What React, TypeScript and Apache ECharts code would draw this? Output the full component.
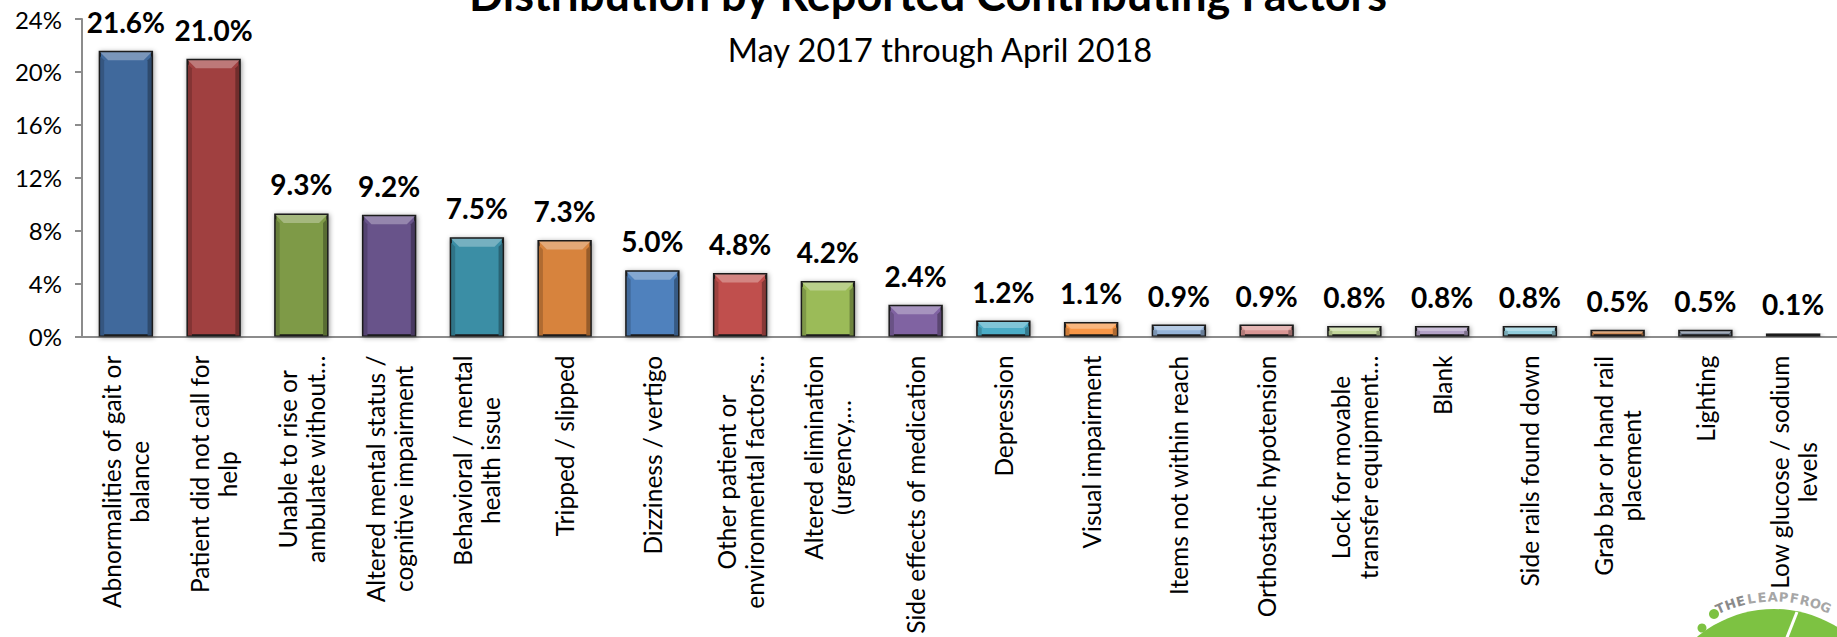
import React, { useEffect, useRef } from 'react';
import * as echarts from 'echarts';

const titleText = 'Distribution by Reported Contributing Factors';
const subtitleText = 'May 2017 through April 2018';

const categories = [
  'Abnormalities of gait or\nbalance',
  'Patient did not call for\nhelp',
  'Unable to rise or\nambulate without…',
  'Altered mental status /\ncognitive impairment',
  'Behavioral / mental\nhealth issue',
  'Tripped / slipped',
  'Dizziness / vertigo',
  'Other patient or\nenvironmental factors…',
  'Altered elimination\n(urgency,…',
  'Side effects of medication',
  'Depression',
  'Visual impairment',
  'Items not within reach',
  'Orthostatic hypotension',
  'Lock for movable\ntransfer equipment…',
  'Blank',
  'Side rails found down',
  'Grab bar or hand rail\nplacement',
  'Lighting',
  'Low glucose / sodium\nlevels',
];

const values = [21.6, 21.0, 9.3, 9.2, 7.5, 7.3, 5.0, 4.8, 4.2, 2.4, 1.2, 1.1, 0.9, 0.9, 0.8, 0.8, 0.8, 0.5, 0.5, 0.1];

const barColors = [
  '#41699C', '#A0403F', '#7E9A47', '#67528A', '#3A8EA5', '#D7833C',
  '#4F81BD', '#C0504D', '#9BBB59', '#8064A2', '#4BACC6', '#F79646',
  '#95B3D7', '#D99694', '#C3D69B', '#B3A2C7', '#92CDDC', '#C98148',
  '#7D8A9C', '#1A1A1A',
];

const yMin = 0;
const yMax = 24;
const yInterval = 4;

const logoText = 'THELEAPFROG';

const FONT = 'Lato, "Open Sans", sans-serif';

function mix(hex: string, target: string, t: number): string {
  const p = (h: string) => [1, 3, 5].map((k) => parseInt(h.slice(k, k + 2), 16));
  const a = p(hex);
  const b = p(target);
  const c = a.map((v, i) => Math.round(v + (b[i] - v) * t));
  return '#' + c.map((v) => v.toString(16).padStart(2, '0')).join('');
}

export default function App() {
  const ref = useRef<HTMLDivElement>(null);

  useEffect(() => {
    if (!ref.current) return;
    const chart = echarts.init(ref.current, undefined, { renderer: 'svg' });

    const cx = 1774;
    const cy = 729;
    const lr = 132;
    const a0 = -114;
    const a1 = -67;
    const letters = logoText.split('').map((ch, i) => {
      const ang = a0 + ((a1 - a0) * i) / (logoText.length - 1);
      const rad = (ang * Math.PI) / 180;
      return {
        type: 'text',
        x: cx + lr * Math.cos(rad),
        y: cy + lr * Math.sin(rad),
        rotation: -((ang + 90) * Math.PI) / 180,
        style: {
          text: ch,
          align: 'center',
          verticalAlign: 'middle',
          font: 'bold 13px "DejaVu Sans", sans-serif',
          fill: i < 3 ? '#8A8A8A' : '#A6A6A6',
        },
      };
    });

    const option: any = {
      animation: false,
      backgroundColor: '#ffffff',
      grid: { left: 82, right: -13, top: 19, bottom: 296, containLabel: false },
      xAxis: {
        type: 'category',
        data: categories,
        axisLine: { show: true, lineStyle: { color: '#8C8C8C', width: 2 } },
        axisTick: { show: false },
        axisLabel: {
          interval: 0,
          rotate: 90,
          margin: 19,
          color: '#000',
          fontFamily: FONT,
          fontSize: 24.5,
          lineHeight: 28,
          formatter: (v: string) =>
            v
              .split('\n')
              .map((l) => `{a|${l}}`)
              .join('\n'),
          rich: {
            a: { align: 'center', fontFamily: FONT, fontSize: 24.5, lineHeight: 28, color: '#000' },
          },
        },
      },
      yAxis: {
        type: 'value',
        min: yMin,
        max: yMax,
        interval: yInterval,
        splitLine: { show: false },
        axisLine: { show: true, lineStyle: { color: '#8C8C8C', width: 2 } },
        axisTick: { show: true, length: 7, lineStyle: { color: '#8C8C8C', width: 2 } },
        axisLabel: {
          margin: 20,
          color: '#000',
          fontFamily: FONT,
          fontSize: 24,
          formatter: '{value}%',
        },
      },
      series: [
        {
          type: 'bar',
          data: values.map((v, i) => ({ value: v, itemStyle: { color: barColors[i] } })),
          barWidth: '62%',
          barMinHeight: 3,
          itemStyle: {
            borderColor: '#1a1a1a',
            borderWidth: 2.2,
            shadowBlur: 5,
            shadowColor: 'rgba(0,0,0,0.4)',
            shadowOffsetX: 1,
            shadowOffsetY: 1,
          },
          label: {
            show: true,
            position: 'top',
            distance: 15,
            color: '#000',
            fontFamily: FONT,
            fontWeight: 'bold',
            fontSize: 28,
            formatter: (p: any) => Number(p.value).toFixed(1) + '%',
          },
          z: 4,
        },
        {
          type: 'custom',
          silent: true,
          z: 5,
          data: values.map((v, i) => [i, v]),
          renderItem: (params: any, api: any) => {
            const i = api.value(0);
            const v = api.value(1);
            const p = api.coord([i, v]);
            const b = api.coord([i, 0]);
            const w = api.size([1, 0])[0] * 0.62;
            const x0 = p[0] - w / 2 + 1.5;
            const x1 = p[0] + w / 2 - 1.5;
            const y0 = p[1] + 1.5;
            const y1 = b[1] - 1;
            const h = y1 - y0;
            if (h <= 2) return null;
            const d = Math.min(8, h * 0.45);
            const s = Math.min(4, d);
            const c = barColors[params.dataIndex];
            return {
              type: 'group',
              children: [
                {
                  type: 'polygon',
                  shape: { points: [[x0, y0 + s], [x0 + s, y0 + d], [x0 + s, y1], [x0, y1]] },
                  style: { fill: mix(c, '#000000', 0.18) },
                },
                {
                  type: 'polygon',
                  shape: { points: [[x1, y0 + s], [x1 - s, y0 + d], [x1 - s, y1], [x1, y1]] },
                  style: { fill: mix(c, '#000000', 0.3) },
                },
                {
                  type: 'polygon',
                  shape: { points: [[x0, y0], [x1, y0], [x1 - d, y0 + d], [x0 + d, y0 + d]] },
                  style: { fill: mix(c, '#ffffff', 0.3) },
                },
              ],
            };
          },
        },
      ],
      graphic: [
        {
          type: 'text',
          x: 928,
          y: -6,
          style: {
            text: titleText,
            align: 'center',
            verticalAlign: 'middle',
            font: `bold 45px ${FONT}`,
            fill: '#000',
          },
        },
        {
          type: 'text',
          x: 940,
          y: 49,
          style: {
            text: subtitleText,
            align: 'center',
            verticalAlign: 'middle',
            font: `32.5px ${FONT}`,
            fill: '#000',
          },
        },
        {
          type: 'group',
          children: [
            { type: 'circle', shape: { cx, cy, r: 120 }, style: { fill: '#7DC242' } },
            { type: 'line', shape: { x1: 1797, y1: 612, x2: 1786, y2: 640 }, style: { stroke: '#ffffff', lineWidth: 3 } },
            { type: 'circle', shape: { cx: 1702, cy: 628, r: 4.5 }, style: { fill: '#7DC242' } },
            { type: 'circle', shape: { cx: 1714, cy: 614, r: 5 }, style: { fill: '#7DC242' } },
            ...letters,
          ],
        },
      ],
    };

    chart.setOption(option);
    return () => chart.dispose();
  }, []);

  return (
    <div
      ref={ref}
      style={{ position: 'absolute', left: 0, top: 0, width: 1837, height: 637, background: '#fff' }}
    />
  );
}
